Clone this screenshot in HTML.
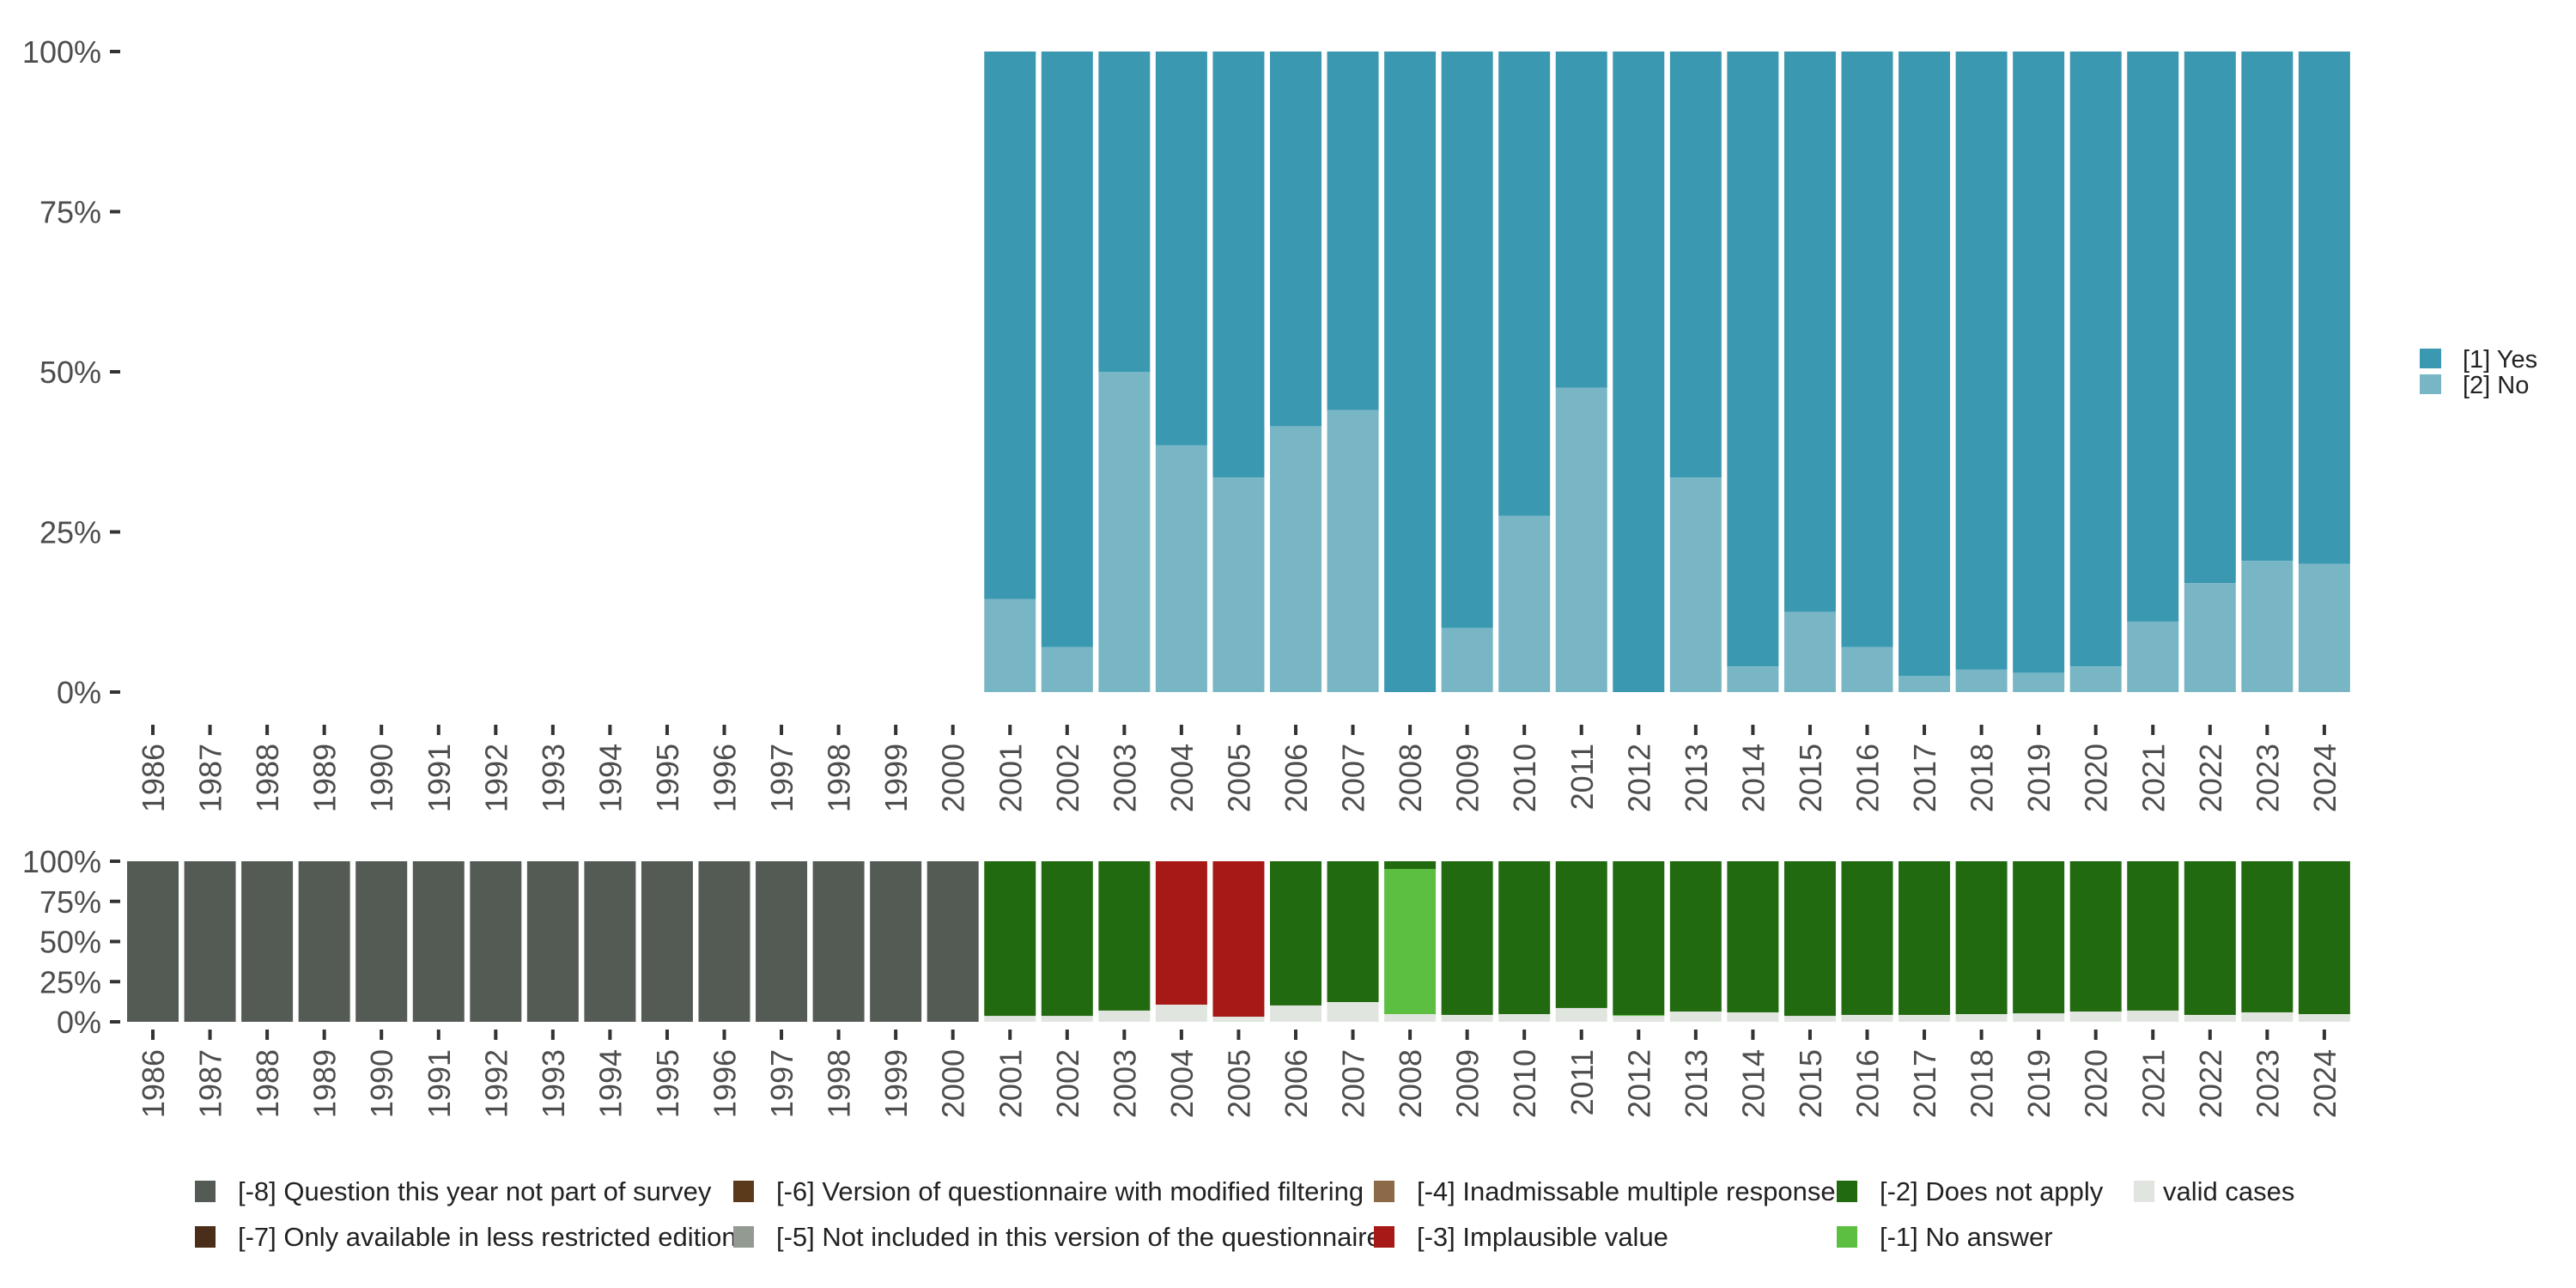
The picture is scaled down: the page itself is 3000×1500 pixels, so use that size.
<!DOCTYPE html>
<html><head><meta charset="utf-8"><style>
html,body{margin:0;padding:0;background:#fff;}
svg{display:block;font-family:"Liberation Sans","DejaVu Sans",sans-serif;}
</style></head><body>
<svg id="chart" width="3000" height="1500" viewBox="0 0 3000 1500" xmlns="http://www.w3.org/2000/svg">
<g id="topPanel"></g>
<g id="bottomPanel"></g>
<g id="legend-right"></g>
<g id="legend-bottom"></g>
</svg>
<script>
const years = [1986,1987,1988,1989,1990,1991,1992,1993,1994,1995,1996,1997,1998,1999,2000,2001,2002,2003,2004,2005,2006,2007,2008,2009,2010,2011,2012,2013,2014,2015,2016,2017,2018,2019,2020,2021,2022,2023,2024];
const noShare = [null,null,null,null,null,null,null,null,null,null,null,null,null,null,null,14.5,7,50,38.5,33.5,41.5,44,0,10,27.5,47.5,0,33.5,4,12.5,7,2.5,3.5,3,4,11,17,20.5,20];
const validShare = [0,0,0,0,0,0,0,0,0,0,0,0,0,0,0,3.7,3.7,7,10.7,3.2,10.2,12.3,4.8,4.3,4.8,8.6,3.7,6.4,5.9,3.7,4.3,4.3,4.8,5.3,6.4,7,4.3,5.9,4.8];
const noAnswerShare = [0,0,0,0,0,0,0,0,0,0,0,0,0,0,0,0,0,0,0,0,0,0,90.4,0,0,0,0.5,0,0,0,0,0,0,0,0,0,0,0,0];
const implausibleShare = [0,0,0,0,0,0,0,0,0,0,0,0,0,0,0,0,0,0,89.3,96.8,0,0,0,0,0,0,0,0,0,0,0,0,0,0,0,0,0,0,0];
const notPartShare = [100,100,100,100,100,100,100,100,100,100,100,100,100,100,100,0,0,0,0,0,0,0,0,0,0,0,0,0,0,0,0,0,0,0,0,0,0,0,0];
const yTicks = [0,25,50,75,100];
const yTickLabels = ["0%","25%","50%","75%","100%"];

const NS="http://www.w3.org/2000/svg";
function mk(tag,attrs,parent,text){const e=document.createElementNS(NS,tag);for(const k in attrs)e.setAttribute(k,attrs[k]);if(text!==undefined)e.textContent=text;parent.appendChild(e);return e;}
const xC = i => 178 + i*66.55;
const BW = 60;
const yTop = v => 806 - v/100*746;
const yBot = v => 1190 - v/100*187;
const C = {yes:"#3b98b1",no:"#78b6c5",m8:"#545b55",m7:"#4a2e19",m6:"#5b3a1b",m5:"#939a92",m4:"#8c6a47",m3:"#a71916",m2:"#216a10",m1:"#5cbf42",valid:"#e1e5e0"};
const topG=document.getElementById('topPanel'), botG=document.getElementById('bottomPanel');

function axes(g,yf,tickTop,labTop,fs){
  yTicks.forEach((t,k)=>{
    const r=mk('rect',{x:128,y:yf(t)-2,width:12,height:4,fill:'#333'},g);
    
    
    const tx=mk('text',{x:118,y:yf(t)+13,'text-anchor':'end','font-size':fs,fill:'#4d4d4d'},g,yTickLabels[k]);
    
    
  });
  years.forEach((yr,i)=>{
    const r=mk('rect',{x:xC(i)-2,y:tickTop,width:4,height:12,fill:'#333'},g);
    
    
    const tx=mk('text',{x:0,y:0,'text-anchor':'end','font-size':36,fill:'#4d4d4d',transform:`translate(${xC(i)+13},${labTop}) rotate(-90)`},g,String(yr));
    
    
  });
}
axes(topG,yTop,844,866,36);
axes(botG,yBot,1199,1222,36);

years.forEach((yr,i)=>{
  const n=noShare[i]; if(n===null) return;
  const r1=mk('rect',{x:xC(i)-BW/2,y:yTop(100),width:BW,height:yTop(n)-yTop(100),fill:C.yes},topG);
  
  
  if(n>0){const r2=mk('rect',{x:xC(i)-BW/2,y:yTop(n),width:BW,height:yTop(0)-yTop(n),fill:C.no},topG);
  
  }
});
years.forEach((yr,i)=>{
  const segs=[[validShare[i],C.valid,'valid'],[noAnswerShare[i],C.m1,'no-answer'],[implausibleShare[i],C.m3,'implausible'],[notPartShare[i],C.m8,'not-part']];
  let acc=0;
  segs.forEach(s=>{ if(s[0]<=0) return;
    const r=mk('rect',{x:xC(i)-BW/2,y:yBot(acc+s[0]),width:BW,height:yBot(acc)-yBot(acc+s[0]),fill:s[1]},botG);
    
    
    acc+=s[0];});
  if(acc<99.9){const r=mk('rect',{x:xC(i)-BW/2,y:yBot(100),width:BW,height:yBot(acc)-yBot(100),fill:C.m2},botG);
    
    }
});
const lr=document.getElementById('legend-right');
[["[1] Yes",C.yes],["[2] No",C.no]].forEach((e,k)=>{
  const g=mk('g',{},lr);
  
  
  mk('rect',{x:2818,y:406+k*30,width:25,height:23,fill:e[1]},g);
  mk('text',{x:2868,y:428+k*30,'font-size':29,fill:'#222'},g,e[0]);
});
const lb=document.getElementById('legend-bottom');
const legItems=[
 ["[-8] Question this year not part of survey",C.m8,227,1387],["[-7] Only available in less restricted edition",C.m7,227,1440],
 ["[-6] Version of questionnaire with modified filtering",C.m6,854,1387],["[-5] Not included in this version of the questionnaire",C.m5,854,1440],
 ["[-4] Inadmissable multiple response",C.m4,1600,1387],["[-3] Implausible value",C.m3,1600,1440],
 ["[-2] Does not apply",C.m2,2139,1387],["[-1] No answer",C.m1,2139,1440],
 ["valid cases",C.valid,2485,1387]];
legItems.forEach(e=>{
  const g=mk('g',{},lb);
  
  
  mk('rect',{x:e[2],y:e[3]-12,width:24,height:25,fill:e[1]},g);
  mk('text',{x:e[2]+(e[2]===2485?34:50),y:e[3]+11,'font-size':31,fill:'#222'},g,e[0]);
});
</script>
</body></html>
